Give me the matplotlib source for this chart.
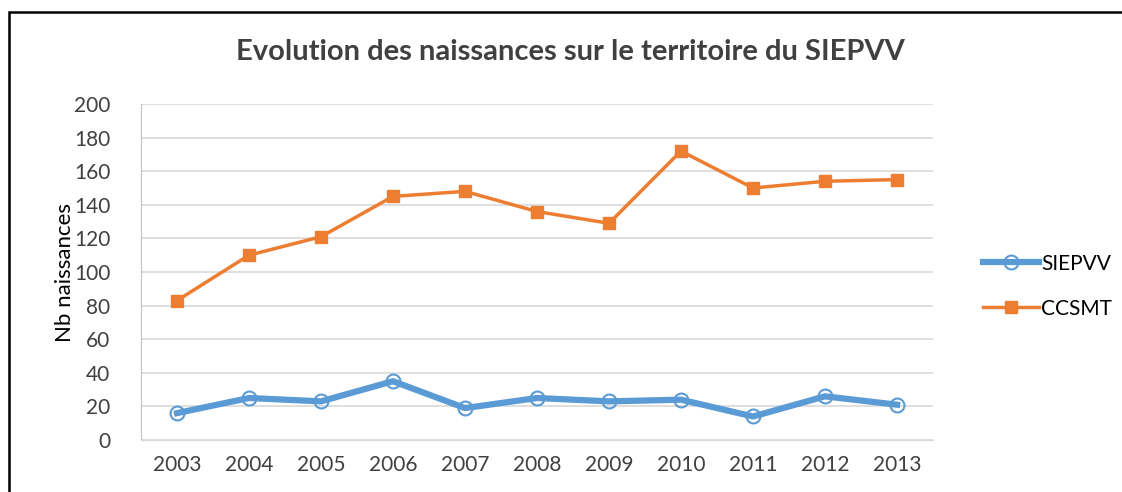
import matplotlib.pyplot as plt
from matplotlib.patches import Rectangle

years = ['2003', '2004', '2005', '2006', '2007', '2008', '2009', '2010', '2011', '2012', '2013']
siepvv = [16, 25, 23, 35, 19, 25, 23, 24, 14, 26, 21]
ccsmt = [83, 110, 121, 145, 148, 136, 129, 172, 150, 154, 155]

plt.rcParams['font.family'] = ['Lato', 'DejaVu Sans']

fig = plt.figure(figsize=(11.22, 4.92), dpi=100)
ax = fig.add_axes([141 / 1122, 1 - 440 / 492, (933 - 141) / 1122, (440 - 104) / 492])

x = list(range(len(years)))
ax.plot(x, siepvv, color='#5b9bd5', linewidth=4.5, marker='o', markersize=10,
        markerfacecolor='none', markeredgecolor='#5b9bd5', markeredgewidth=1.5,
        label='SIEPVV', zorder=3)
ax.plot(x, ccsmt, color='#ed7d31', linewidth=2.5, marker='s', markersize=9,
        markerfacecolor='#ed7d31', markeredgecolor='#ed7d31',
        label='CCSMT', zorder=3)

ax.set_xlim(-0.5, len(years) - 0.5)
ax.set_ylim(0, 200)
ax.set_yticks(range(0, 201, 20))
ax.set_xticks(x)
ax.set_xticklabels(years)
ax.grid(axis='y', color='#d9d9d9', linewidth=1.2)
ax.set_axisbelow(True)
ax.tick_params(length=0, labelsize=15, colors='#404040', pad=11)
ax.tick_params(axis='y', pad=22)
for side in ['top', 'right']:
    ax.spines[side].set_visible(False)
ax.spines['left'].set_color('#bfbfbf')
ax.spines['bottom'].set_color('#d9d9d9')

ax.set_ylabel('Nb naissances', fontsize=16, color='black', labelpad=-1)
fig.text(0.508, 1 - 52 / 492, 'Evolution des naissances sur le territoire du SIEPVV',
         ha='center', va='center', fontsize=21, fontweight='bold', color='#404040')

ax.legend(loc='center left', bbox_to_anchor=(1.052, 0.458), borderaxespad=0,
          frameon=False, fontsize=15, labelspacing=1.2, handlelength=2.7,
          handletextpad=0.1)

fig.patches.append(Rectangle((8.5 / 1122, -0.1), 1.2, 1 - 11.5 / 492 + 0.1,
                             transform=fig.transFigure, fill=False,
                             edgecolor='black', linewidth=1.8))

fig.savefig('out.png', dpi=100)
